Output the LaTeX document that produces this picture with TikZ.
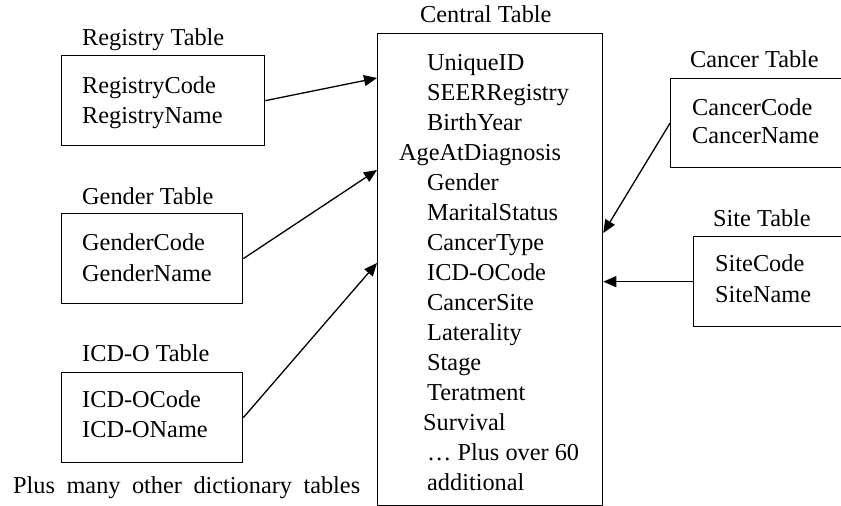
\documentclass[tikz,border=0pt]{standalone}
\usepackage{fontspec}
\setmainfont{Liberation Serif}
\usetikzlibrary{arrows.meta,calc}
\tikzset{
  tbox/.style={draw, line width=1.3pt, rectangle, inner sep=0pt, anchor=north west},
  txt/.style={anchor=base west, inner sep=0pt, font=\fontsize{24.3}{30}\selectfont},
  link/.style={line width=1.3pt, -{Triangle[length=13pt,width=11pt]}}
}
\begin{document}
\begin{tikzpicture}[x=1pt,y=-1pt]
\useasboundingbox (0,0) rectangle (841,506);
\clip (0,0) rectangle (841,506);

% central table
\node[tbox, minimum width=225pt, minimum height=472pt] (central) at (377,33) {};
\node[txt] (ctitle) at (420,22) {Central Table};
\foreach \t [count=\i from 0] in {UniqueID,SEERRegistry,BirthYear,AgeAtDiagnosis,Gender,MaritalStatus,CancerType,ICD-OCode,CancerSite,Laterality,Stage,Teratment,Survival,{\ldots{} Plus over 60},additional}{
  \pgfmathsetmacro{\xx}{ifthenelse(\i==3,399,ifthenelse(\i==12,423,427))}
  \node[txt] (cf\i) at (\xx,70+30*\i) {\t};
}

% registry table
\node[tbox, minimum width=203pt, minimum height=90pt] (reg) at (61,55) {};
\node[txt] (regt) at (82,45) {Registry Table};
\node[txt] (reg1) at (82,93) {RegistryCode};
\node[txt] (reg2) at (82,123) {RegistryName};

% gender table
\node[tbox, minimum width=181pt, minimum height=90pt] (gen) at (61,213) {};
\node[txt] (gent) at (82,204) {Gender Table};
\node[txt] (gen1) at (82,250) {GenderCode};
\node[txt] (gen2) at (82,281) {GenderName};

% ICD-O table
\node[tbox, minimum width=181pt, minimum height=90pt] (icd) at (61,372) {};
\node[txt] (icdt) at (82,361) {ICD-O Table};
\node[txt] (icd1) at (82,407) {ICD-OCode};
\node[txt] (icd2) at (82,437) {ICD-OName};

\node[txt] (more) at (13,493) {\makebox[347pt][s]{Plus many other dictionary tables}};

% cancer table
\node[tbox, minimum width=200pt, minimum height=89pt] (can) at (670,78) {};
\node[txt] (cant) at (690,67) {Cancer Table};
\node[txt] (can1) at (692,115) {CancerCode};
\node[txt] (can2) at (692,143) {CancerName};

% site table
\node[tbox, minimum width=200pt, minimum height=90pt] (site) at (693,236) {};
\node[txt] (sitet) at (713,226) {Site Table};
\node[txt] (site1) at (715,271) {SiteCode};
\node[txt] (site2) at (715,302) {SiteName};

% connectors into the central table
\draw[link] (reg.east) -- ($(central.north west)+(0,45)$);
\draw[link] (gen.east) -- ($(central.north west)+(0,137)$);
\draw[link] (icd.east) -- ($(central.north west)+(0,230)$);
\draw[link] (can.west) -- ($(central.north east)+(0,200)$);
\draw[link] (site.west) -- (site.west -| central.east);
\end{tikzpicture}
\end{document}
